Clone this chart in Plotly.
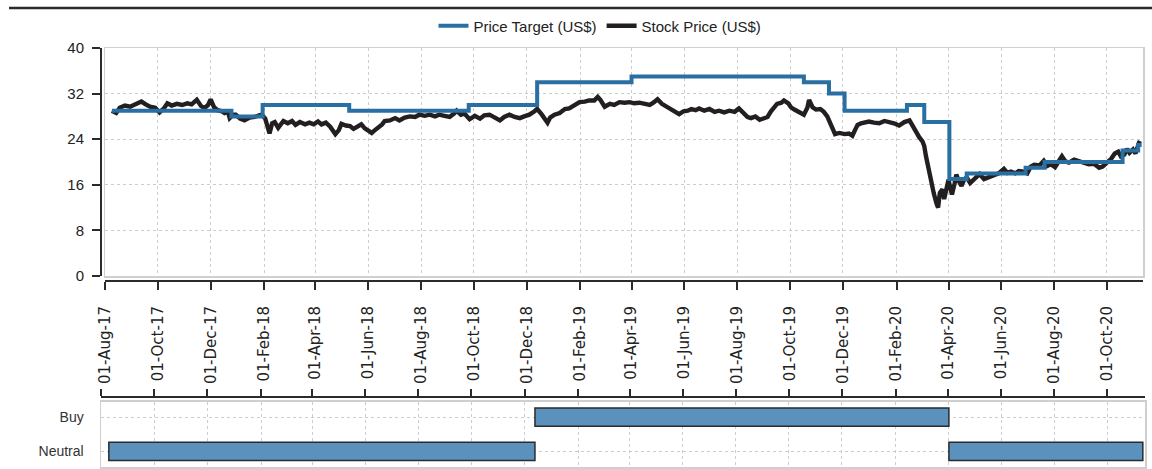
import pandas as pd
import plotly.graph_objects as go

# ---------------- data ----------------
stock_dates = [
    "2017-08-09", "2017-08-14", "2017-08-18", "2017-08-24", "2017-08-30", "2017-09-05", "2017-09-12", "2017-09-17",
    "2017-09-22", "2017-09-28", "2017-10-03", "2017-10-08", "2017-10-12", "2017-10-17", "2017-10-23", "2017-10-29",
    "2017-11-04", "2017-11-09", "2017-11-15", "2017-11-20", "2017-11-24", "2017-11-28", "2017-12-01", "2017-12-05",
    "2017-12-09", "2017-12-14", "2017-12-17", "2017-12-21", "2017-12-23", "2017-12-27", "2017-12-30", "2018-01-04",
    "2018-01-09", "2018-01-15", "2018-01-21", "2018-01-26", "2018-01-29", "2018-02-02", "2018-02-05", "2018-02-07",
    "2018-02-10", "2018-02-13", "2018-02-17", "2018-02-19", "2018-02-23", "2018-02-28", "2018-03-05", "2018-03-09",
    "2018-03-14", "2018-03-20", "2018-03-25", "2018-03-30", "2018-04-04", "2018-04-08", "2018-04-13", "2018-04-18",
    "2018-04-21", "2018-04-24", "2018-04-28", "2018-05-01", "2018-05-06", "2018-05-11", "2018-05-15", "2018-05-20",
    "2018-05-24", "2018-05-28", "2018-06-02", "2018-06-05", "2018-06-08", "2018-06-12", "2018-06-17", "2018-06-20",
    "2018-06-26", "2018-07-02", "2018-07-07", "2018-07-13", "2018-07-19", "2018-07-25", "2018-07-30", "2018-08-05",
    "2018-08-11", "2018-08-17", "2018-08-22", "2018-08-28", "2018-09-03", "2018-09-08", "2018-09-11", "2018-09-16",
    "2018-09-20", "2018-09-26", "2018-10-02", "2018-10-08", "2018-10-13", "2018-10-19", "2018-10-25", "2018-10-31",
    "2018-11-05", "2018-11-11", "2018-11-17", "2018-11-23", "2018-11-28", "2018-12-04", "2018-12-10", "2018-12-13",
    "2018-12-18", "2018-12-22", "2018-12-25", "2018-12-28", "2019-01-02", "2019-01-08", "2019-01-14", "2019-01-19",
    "2019-01-25", "2019-01-31", "2019-02-06", "2019-02-11", "2019-02-17", "2019-02-21", "2019-02-24", "2019-03-01",
    "2019-03-07", "2019-03-12", "2019-03-18", "2019-03-24", "2019-03-30", "2019-04-04", "2019-04-10", "2019-04-16",
    "2019-04-22", "2019-04-27", "2019-05-01", "2019-05-06", "2019-05-11", "2019-05-17", "2019-05-22", "2019-05-26",
    "2019-05-31", "2019-06-05", "2019-06-09", "2019-06-14", "2019-06-18", "2019-06-24", "2019-06-30", "2019-07-06",
    "2019-07-11", "2019-07-17", "2019-07-23", "2019-07-29", "2019-08-03", "2019-08-08", "2019-08-13", "2019-08-17",
    "2019-08-22", "2019-08-27", "2019-08-31", "2019-09-05", "2019-09-09", "2019-09-13", "2019-09-16", "2019-09-21",
    "2019-09-24", "2019-09-29", "2019-10-02", "2019-10-06", "2019-10-12", "2019-10-17", "2019-10-21", "2019-10-23",
    "2019-10-27", "2019-10-31", "2019-11-05", "2019-11-09", "2019-11-13", "2019-11-15", "2019-11-19", "2019-11-22",
    "2019-11-27", "2019-12-03", "2019-12-08", "2019-12-12", "2019-12-15", "2019-12-18", "2019-12-22", "2019-12-27",
    "2019-12-31", "2020-01-06", "2020-01-12", "2020-01-18", "2020-01-23", "2020-01-29", "2020-02-04", "2020-02-10",
    "2020-02-16", "2020-02-19", "2020-02-22", "2020-02-27", "2020-03-02", "2020-03-04", "2020-03-06", "2020-03-10",
    "2020-03-12", "2020-03-15", "2020-03-18", "2020-03-20", "2020-03-22", "2020-03-25", "2020-03-27", "2020-03-29",
    "2020-04-01", "2020-04-03", "2020-04-05", "2020-04-08", "2020-04-10", "2020-04-13", "2020-04-16", "2020-04-19",
    "2020-04-22", "2020-04-26", "2020-05-01", "2020-05-04", "2020-05-07", "2020-05-12", "2020-05-18", "2020-05-24",
    "2020-05-29", "2020-06-04", "2020-06-08", "2020-06-12", "2020-06-17", "2020-06-21", "2020-06-27", "2020-07-01",
    "2020-07-05", "2020-07-09", "2020-07-15", "2020-07-20", "2020-07-24", "2020-07-28", "2020-08-02", "2020-08-07",
    "2020-08-10", "2020-08-14", "2020-08-18", "2020-08-24", "2020-08-30", "2020-09-04", "2020-09-10", "2020-09-16",
    "2020-09-22", "2020-09-26", "2020-10-01", "2020-10-06", "2020-10-10", "2020-10-14", "2020-10-17", "2020-10-21",
    "2020-10-24", "2020-10-27", "2020-10-31", "2020-11-03", "2020-11-07", "2020-11-08",
]
stock_prices = [
    29.0, 28.6, 29.5, 29.9, 29.7, 30.2, 30.6, 30.1,
    29.7, 29.5, 28.7, 29.4, 30.3, 29.9, 30.2, 30.0,
    30.3, 30.1, 30.9, 29.8, 29.5, 30.0, 31.0, 29.6,
    29.1, 28.9, 28.6, 28.8, 27.7, 28.3, 28.3, 27.6,
    27.3, 27.8, 27.9, 28.2, 28.3, 27.6, 26.0, 25.0,
    26.8, 27.0, 26.0, 26.4, 27.2, 26.8, 27.2, 26.5,
    27.0, 26.6, 26.9, 26.6, 27.1, 26.6, 26.9, 26.2,
    25.5, 24.9, 25.6, 26.7, 26.4, 26.3, 25.8, 26.3,
    26.6, 25.9, 25.5, 25.1, 25.5, 25.9, 26.6, 27.2,
    27.3, 27.7, 27.3, 27.8, 28.0, 27.9, 28.3, 28.1,
    28.3, 28.0, 28.3, 28.1, 27.9, 28.5, 29.0, 28.3,
    28.5, 27.5, 28.1, 27.6, 28.2, 28.3, 27.7, 27.3,
    27.9, 28.3, 27.9, 27.7, 28.0, 28.3, 28.9, 29.3,
    28.4, 27.6, 26.9, 27.8, 28.3, 28.6, 29.3, 29.4,
    29.9, 30.5, 30.6, 30.8, 30.8, 31.4, 30.9, 29.7,
    30.2, 30.0, 30.5, 30.4, 30.5, 30.3, 30.4, 30.1,
    30.0, 30.5, 31.0, 30.2, 29.8, 29.2, 28.8, 28.4,
    28.9, 29.0, 29.3, 29.1, 29.4, 29.0, 29.3, 28.8,
    29.0, 28.7, 29.0, 28.8, 29.4, 28.6, 27.9, 27.7,
    28.0, 27.4, 27.6, 27.9, 28.9, 29.7, 30.2, 30.4,
    30.8, 30.3, 29.6, 29.2, 28.8, 28.3, 29.5, 30.9,
    29.6, 29.2, 29.3, 28.8, 28.0, 27.2, 25.8, 24.9,
    25.1, 24.9, 25.0, 24.6, 25.6, 26.5, 26.8, 27.0,
    27.1, 26.9, 26.8, 27.2, 27.1, 26.8, 26.4, 27.0,
    27.3, 26.5, 25.6, 24.4, 23.6, 22.8, 21.0, 18.2,
    16.0, 14.5, 12.8, 12.0, 14.6, 15.2, 13.5, 14.8,
    16.9, 15.5, 14.3, 16.2, 17.8, 16.6, 15.8, 16.9,
    17.3, 16.3, 17.0, 17.6, 17.9, 17.0, 17.3, 17.7,
    18.0, 18.8, 18.1, 18.3, 18.0, 18.4, 18.3, 18.0,
    19.2, 19.5, 19.4, 20.2, 19.3, 19.6, 19.1, 20.3,
    21.0, 20.1, 19.9, 20.4, 20.1, 20.0, 19.6, 19.7,
    19.0, 19.2, 19.8, 20.6, 21.5, 21.8, 21.0, 21.3,
    22.3, 21.6, 22.2, 21.5, 23.4, 23.7,
]

pt_dates = [
    "2017-08-09", "2017-12-25", "2018-01-30", "2018-05-10", "2018-09-25", "2018-12-13",
    "2019-04-01", "2019-10-17", "2019-11-15", "2019-12-03", "2020-02-13", "2020-03-04",
    "2020-04-02", "2020-04-22", "2020-06-29", "2020-07-21", "2020-10-19", "2020-11-06", "2020-11-10",
]
pt_values = [29, 28, 30, 29, 30, 34, 35, 34, 32, 29, 30, 27, 17, 18, 19, 20, 22, 23, 23]

rating_labels = ["Neutral", "Buy", "Neutral"]
rating_starts = ["2017-08-10", "2018-12-13", "2020-04-02"]
rating_ends = ["2018-12-13", "2020-04-02", "2020-11-11"]
rating_categories = ["Neutral", "Buy"]

y_ticks = [0, 8, 16, 24, 32, 40]
series_names = ["Price Target (US$)", "Stock Price (US$)"]

# ---------------- styling ----------------
W, H = 1152, 469
BLUE = "#2a6fa1"
BLACK = "#231f20"
BAR_FILL = "#5b92bd"
AXIS_DARK = "#2b2b2b"
FRAME = "#cfcfcf"
GRID = "#cccccc"
GRID_DASH = "3px,3px"
TEXT = "#222222"
ARIAL = "Liberation Sans, Arial, sans-serif"
DEJAVU = "DejaVu Sans, sans-serif"


def px_x(p):
    return p / W


def px_y(p):
    return 1 - p / H


upper_range = ["2017-08-01", "2020-11-11 14:00"]
lower_range = ["2017-08-01", "2020-11-13 12:00"]

durations = [
    (pd.Timestamp(e) - pd.Timestamp(s)).total_seconds() * 1000
    for s, e in zip(rating_starts, rating_ends)
]

fig = go.Figure()

fig.add_trace(go.Scatter(
    x=stock_dates, y=stock_prices, mode="lines", name=series_names[1],
    line=dict(color=BLACK, width=4.4), xaxis="x", yaxis="y", hoverinfo="skip",
))
fig.add_trace(go.Scatter(
    x=pt_dates, y=pt_values, mode="lines", name=series_names[0],
    line=dict(color=BLUE, width=4, shape="hv"), xaxis="x", yaxis="y", hoverinfo="skip",
))
# carriers for the offset (detached) dark axes
fig.add_trace(go.Scatter(
    x=[pt_dates[0]], y=[pt_values[0]], mode="markers", marker=dict(opacity=0),
    xaxis="x2", yaxis="y2", showlegend=False, hoverinfo="skip",
))
fig.add_trace(go.Bar(
    y=rating_labels, x=durations, base=rating_starts, orientation="h",
    width=0.53, marker=dict(color=BAR_FILL, line=dict(color=AXIS_DARK, width=1.5)),
    xaxis="x3", yaxis="y3", showlegend=False, hoverinfo="skip",
))
fig.add_trace(go.Scatter(
    x=[rating_starts[0]], y=[rating_labels[0]], mode="markers", marker=dict(opacity=0),
    xaxis="x4", yaxis="y3", showlegend=False, hoverinfo="skip",
))

tick_common = dict(tick0="2017-08-01", dtick="M2")

fig.update_layout(
    width=W, height=H, autosize=False,
    margin=dict(l=0, r=0, t=0, b=0, pad=0, autoexpand=False),
    paper_bgcolor="white", plot_bgcolor="white",
    font=dict(family=ARIAL, size=14, color=TEXT),
    showlegend=True,
    legend=dict(
        orientation="h", x=px_x(600), y=px_y(26), xanchor="center", yanchor="middle",
        traceorder="reversed", font=dict(family=ARIAL, size=15, color=TEXT),
        bgcolor="rgba(0,0,0,0)", itemwidth=30,
    ),
    xaxis=dict(
        domain=[px_x(105), px_x(1143)], range=upper_range, type="date", anchor="y",
        showgrid=True, gridcolor=GRID, griddash=GRID_DASH, gridwidth=1,
        showline=True, mirror=True, linecolor=FRAME, linewidth=1.5,
        ticks="", showticklabels=False, zeroline=False, automargin=False, **tick_common,
    ),
    yaxis=dict(
        domain=[px_y(276), px_y(48)], range=[0, 40], anchor="x",
        tickvals=y_ticks, showgrid=True, gridcolor=GRID, griddash=GRID_DASH, gridwidth=1,
        showline=True, mirror=True, linecolor=FRAME, linewidth=1.5,
        ticks="", showticklabels=False, zeroline=False, automargin=False,
    ),
    xaxis2=dict(
        overlaying="x", anchor="free", position=px_y(281), side="bottom",
        range=upper_range, type="date", showgrid=False, zeroline=False,
        showline=True, linecolor=AXIS_DARK, linewidth=2,
        ticks="outside", ticklen=8, tickwidth=2, tickcolor=AXIS_DARK,
        tickformat="%d-%b-%y", tickangle=-90, ticklabelstandoff=10,
        tickfont=dict(family=DEJAVU, size=15, color=TEXT), automargin=False, **tick_common,
    ),
    yaxis2=dict(
        overlaying="y", anchor="free", position=px_x(101), side="left",
        range=[0, 40], tickvals=y_ticks, showgrid=False, zeroline=False,
        showline=True, linecolor=AXIS_DARK, linewidth=2,
        ticks="outside", ticklen=8, tickwidth=2, tickcolor=AXIS_DARK,
        tickfont=dict(family=ARIAL, size=15, color=TEXT), ticklabelstandoff=5,
        automargin=False,
    ),
    xaxis3=dict(
        domain=[px_x(101), px_x(1145)], range=lower_range, type="date", anchor="y3",
        showgrid=True, gridcolor=GRID, griddash=GRID_DASH, gridwidth=1,
        showline=True, mirror=True, linecolor=FRAME, linewidth=1.5,
        ticks="", showticklabels=False, zeroline=False, automargin=False, **tick_common,
    ),
    yaxis3=dict(
        domain=[px_y(467), px_y(401.5)], anchor="x3", type="category",
        categoryorder="array", categoryarray=rating_categories, range=[-0.45, 1.45],
        showgrid=True, gridcolor=GRID, griddash=GRID_DASH, gridwidth=1,
        showline=True, mirror=True, linecolor=FRAME, linewidth=1.5,
        ticks="", ticklabelstandoff=13, zeroline=False, automargin=False,
        tickfont=dict(family=ARIAL, size=14, color="#333333"),
    ),
    xaxis4=dict(
        overlaying="x3", anchor="free", position=px_y(397), side="top",
        range=lower_range, type="date", showgrid=False, zeroline=False,
        showline=True, linecolor=AXIS_DARK, linewidth=2,
        ticks="outside", ticklen=7, tickwidth=2, tickcolor=AXIS_DARK,
        showticklabels=False, automargin=False, **tick_common,
    ),
    shapes=[dict(
        type="line", xref="paper", yref="paper",
        x0=px_x(9), x1=1, y0=px_y(8), y1=px_y(8),
        line=dict(color=AXIS_DARK, width=2.5),
    )],
)

fig.write_html(
    "out.html",
    config={"displayModeBar": False, "staticPlot": True},
    post_script="document.body.style.margin='0';document.body.style.padding='0';",
)
